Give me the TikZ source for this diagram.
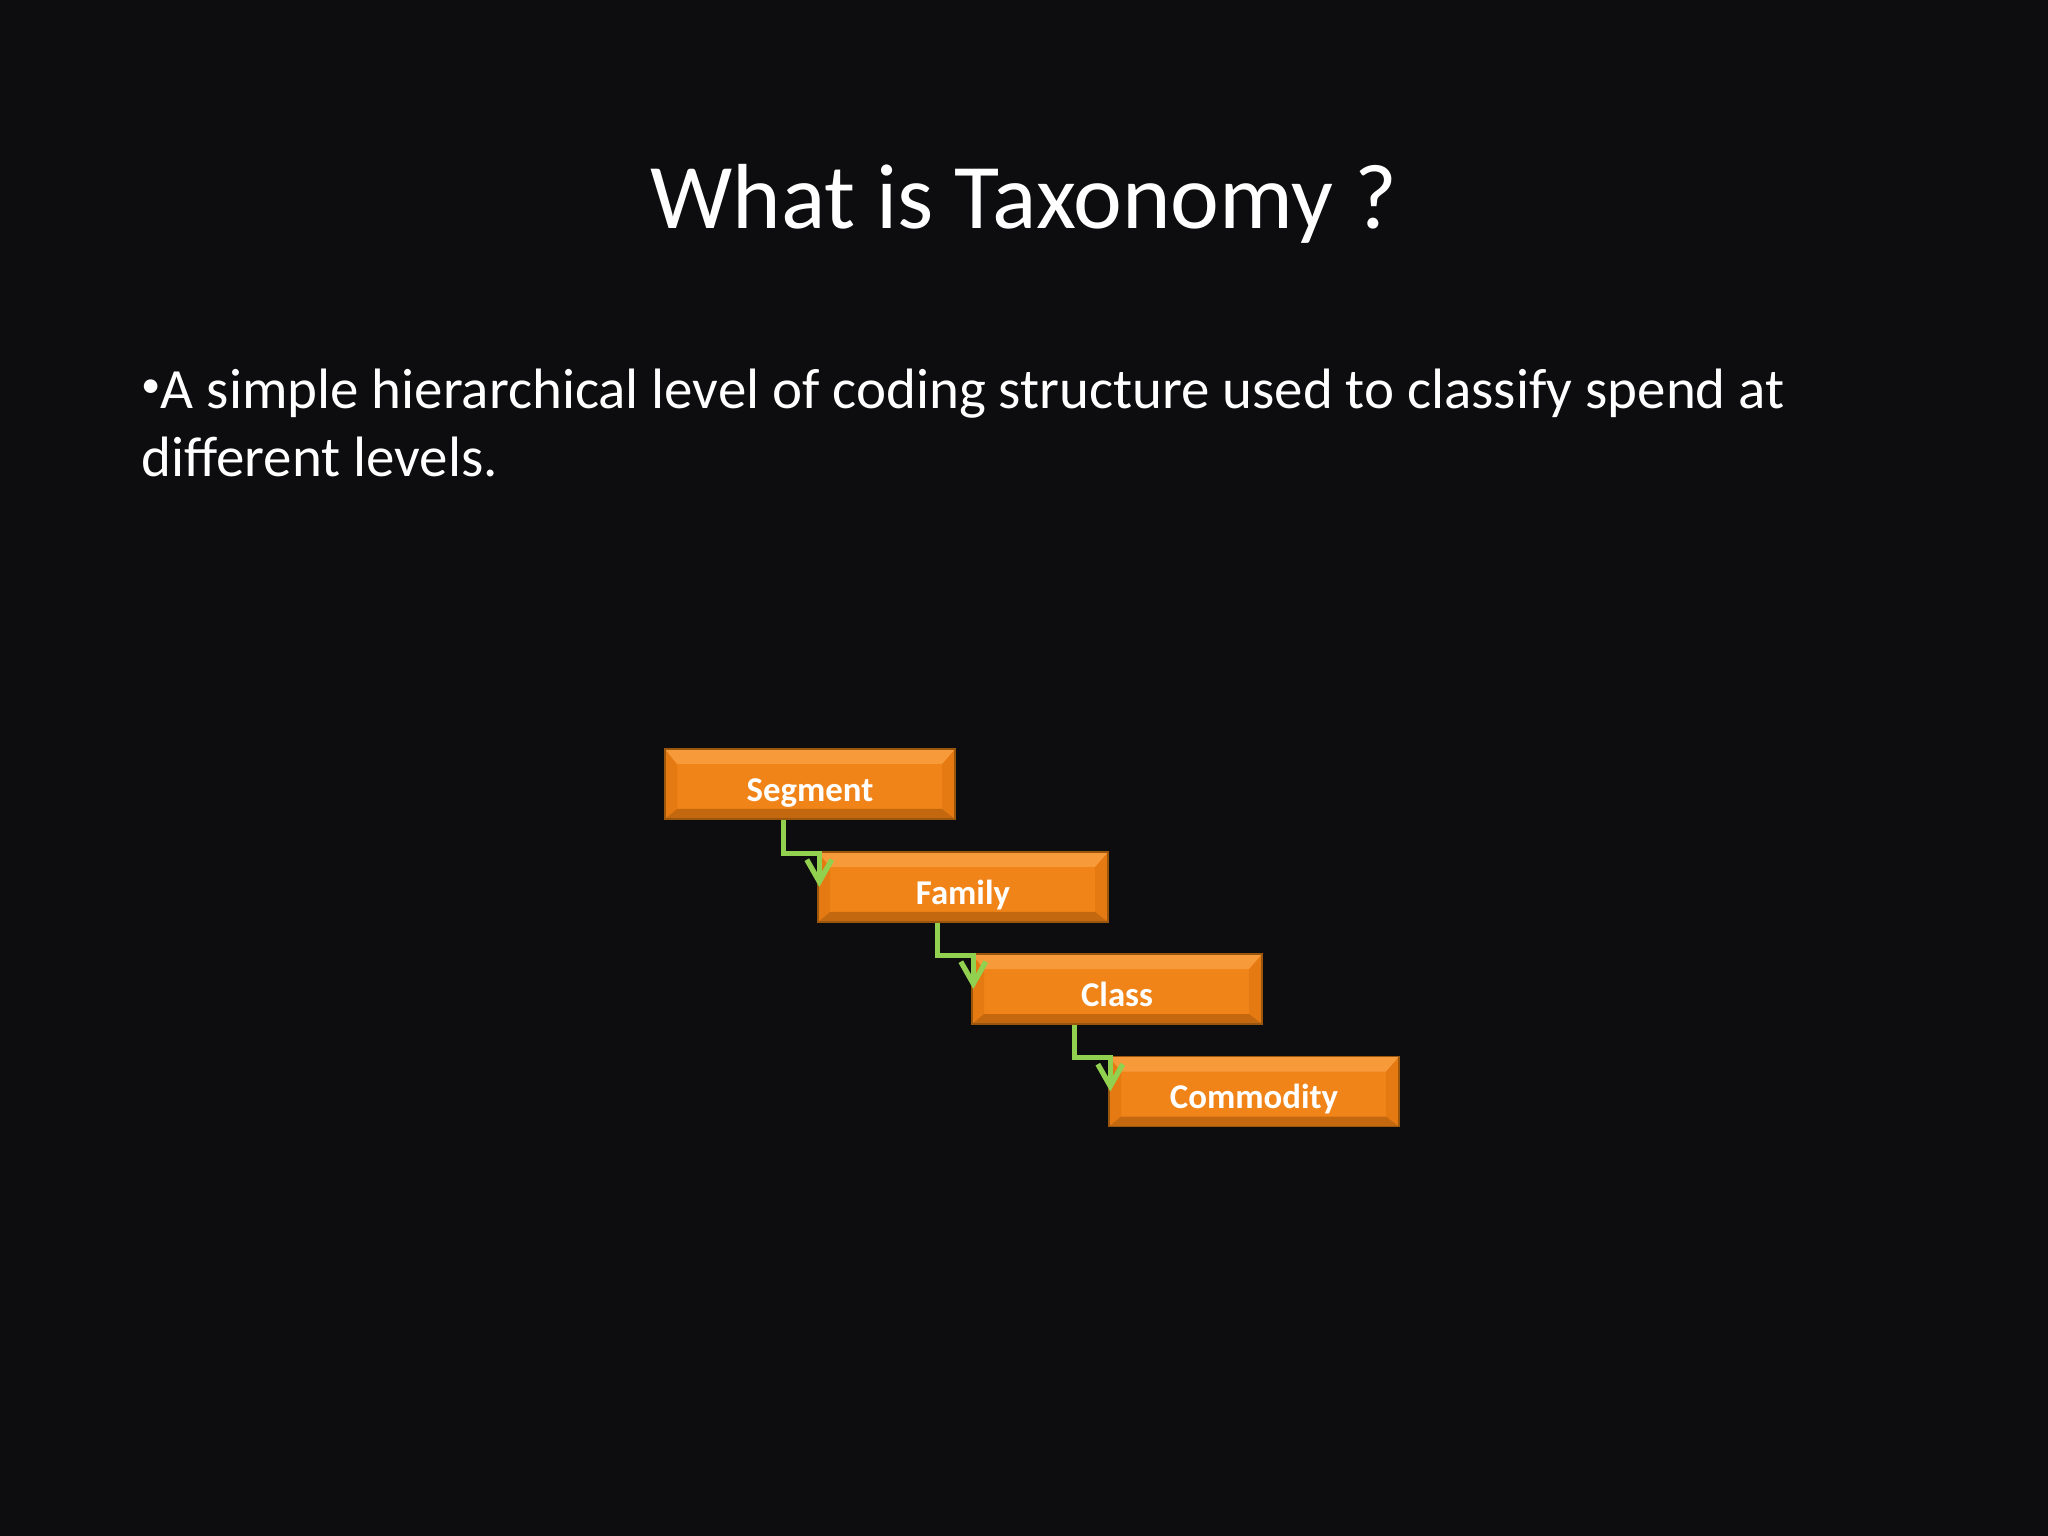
\documentclass[tikz,border=0pt]{standalone}
\usepackage{fontspec}
\setmainfont{Carlito}
\usetikzlibrary{calc,arrows.meta}
\definecolor{slidebg}{HTML}{0D0D0F}
\definecolor{boxmid}{HTML}{F08418}
\definecolor{boxtop}{HTML}{F69A3A}
\definecolor{boxbot}{HTML}{C4680F}
\definecolor{boxside}{HTML}{E67A12}
\definecolor{boxedge}{HTML}{9A560C}
\definecolor{linkgreen}{HTML}{92D050}
\begin{document}
\begin{tikzpicture}[box/.style={minimum width=2.9cm, minimum height=0.7cm, inner sep=0pt,
		fill=boxmid, draw=boxedge, line width=0.4pt, text=white,
		text height=0.34cm, text depth=0pt,
		font=\bfseries\fontsize{9.9}{12}\selectfont,
		path picture={
			\coordinate (pnw) at (path picture bounding box.north west);
			\coordinate (pne) at (path picture bounding box.north east);
			\coordinate (psw) at (path picture bounding box.south west);
			\coordinate (pse) at (path picture bounding box.south east);
			\fill[boxside] (pnw) -- ($(pnw)+(0.12,-0.15)$) -- ($(psw)+(0.12,0.10)$) -- (psw) -- cycle;
			\fill[boxside] (pne) -- ($(pne)+(-0.13,-0.15)$) -- ($(pse)+(-0.13,0.10)$) -- (pse) -- cycle;
			\fill[boxtop] (pnw) -- (pne) -- ($(pne)+(-0.13,-0.15)$) -- ($(pnw)+(0.12,-0.15)$) -- cycle;
			\fill[boxbot] (psw) -- (pse) -- ($(pse)+(-0.13,0.10)$) -- ($(psw)+(0.12,0.10)$) -- cycle;
		}},
	link/.style={draw=linkgreen, line width=1.5pt, -{Straight Barb[length=0.22cm, width=0.25cm]}}]
	\fill[slidebg] (0,0) rectangle (20.48,-15.36);

	\node[text=white, anchor=base, font=\fontsize{26.3}{32}\selectfont] (title) at (10.24,-2.29) {What is Taxonomy ?};
	% base anchor sits on the last line
	\node[text=white, anchor=base west, align=left, inner sep=0pt, font=\fontsize{16.2}{19.6}\selectfont] (body) at (1.41,-4.77)
		{\raisebox{3pt}{\fontsize{11}{12}\selectfont •}A simple hierarchical level of coding structure used to classify spend at\\different levels.};

	\node[box] (seg) at (8.10,-7.84) {Segment};
	\node[box] (fam) at (9.63,-8.87) {Family};
	\node[box] (cls) at (11.17,-9.89) {Class};
	\node[box] (com) at (12.54,-10.915) {Commodity};

	\draw[link] ($(seg.south -| fam.west)+(-0.34,0)$) |- ($(fam.north west)+(0.02,-0.02)$) -- ($(fam.west)+(0.02,0)$);
	\draw[link] ($(fam.south -| cls.west)+(-0.34,0)$) |- ($(cls.north west)+(0.02,-0.02)$) -- ($(cls.west)+(0.02,0)$);
	\draw[link] ($(cls.south -| com.west)+(-0.34,0)$) |- ($(com.north west)+(0.02,-0.02)$) -- ($(com.west)+(0.02,0)$);
\end{tikzpicture}
\end{document}
